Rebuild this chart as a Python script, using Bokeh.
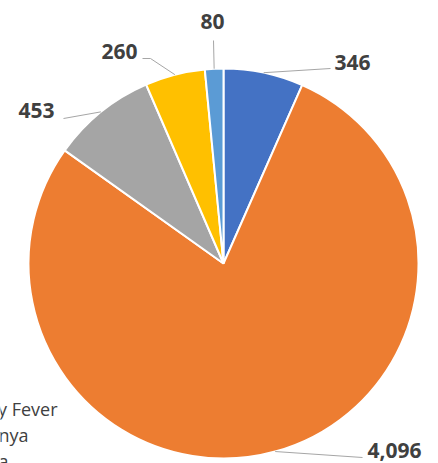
import math
from bokeh.plotting import figure
from bokeh.models import Range1d, ColumnDataSource
from bokeh.core.properties import value
from bokeh.embed import file_html
from bokeh.resources import INLINE

# ---- data ----
categories = ["Series A", "Series B", "Series C", "Series D", "Series E"]
counts = [346, 4096, 453, 260, 80]
labels = ["346", "4,096", "453", "260", "80"]
colors = ["#4472C4", "#ED7D31", "#A5A5A5", "#FFC000", "#5B9BD5"]
legend_names = ["Rift Valley Fever", "Chikungunya", "Zika"]

# ---- layout (screen pixel coords of the reference, y down) ----
W, H = 438, 463
PAGE_H = 463
cx_px, cy_px, R = 223, 263, 195
# label centres and leader-line bends (pixel coords)
label_xy = [(352, 62), (394, 450), (36, 110), (119, 51), (212, 21)]
leader_pts = [[(330, 68)], [(362, 457)], [(63, 118)], [(150, 58), (142, 58)], [(213, 40)]]
legend_right_x = [57, 28, 8]
legend_base_y = [408, 434, 460]


def fy(py):
    return PAGE_H - py


p = figure(width=W, height=H, output_backend="svg", toolbar_location=None,
           x_range=Range1d(0, W), y_range=Range1d(PAGE_H - H, PAGE_H),
           x_axis_location=None, y_axis_location=None, min_border=0)
p.outline_line_color = None
p.grid.visible = False
p.background_fill_color = "white"
p.border_fill_color = "white"

total = sum(counts)
starts, ends, mids = [], [], []
acc = 0.0
for c in counts:
    a0 = acc / total * 2 * math.pi
    acc += c
    a1 = acc / total * 2 * math.pi
    starts.append(math.pi / 2 - a0)
    ends.append(math.pi / 2 - a1)
    mids.append((a0 + a1) / 2)

cx, cy = cx_px, fy(cy_px)
src = ColumnDataSource(dict(start=starts, end=ends, color=colors, cat=categories))
p.wedge(x=cx, y=cy, radius=R, start_angle="start", end_angle="end", direction="clock",
        fill_color="color", line_color="white", line_width=2, source=src)

# leader lines
for m, pts in zip(mids, leader_pts):
    sx = cx + R * math.sin(m)
    sy = cy + R * math.cos(m)
    xs = [sx] + [q[0] for q in pts]
    ys = [sy] + [fy(q[1]) for q in pts]
    p.line(xs, ys, line_color="#A6A6A6", line_width=1)

# value labels
p.text(x=[q[0] for q in label_xy], y=[fy(q[1]) for q in label_xy], text=labels,
       text_font=value("Open Sans"), text_font_style="bold", text_font_size="21px",
       text_color="#404040", text_align="center", text_baseline="middle")

# legend (cut off at left edge)
p.text(x=legend_right_x, y=[fy(v) for v in legend_base_y], text=legend_names,
       text_font=value("Open Sans"), text_font_size="18px",
       text_color="#404040", text_align="right", text_baseline="alphabetic")

open("out.html", "w").write(file_html(p, INLINE))
